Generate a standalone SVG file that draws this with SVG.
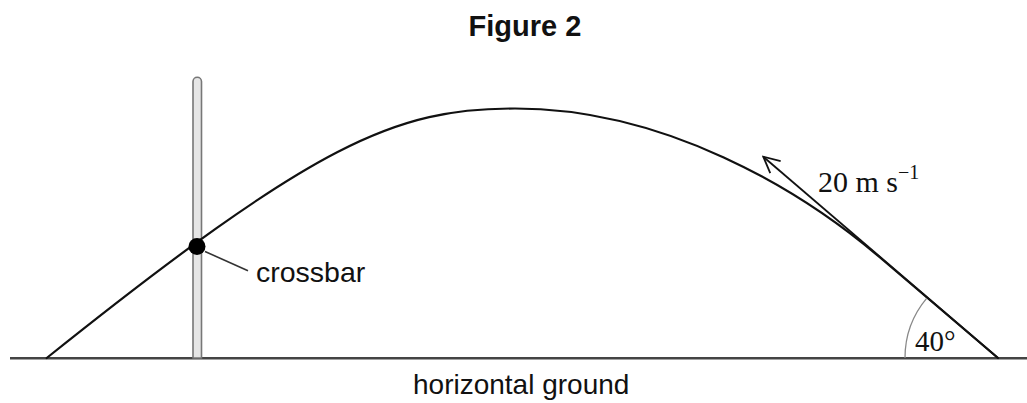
<svg xmlns="http://www.w3.org/2000/svg" width="1027" height="403" viewBox="0 0 1027 403">
<style>
.sans{font-family:"Liberation Sans",Arial,sans-serif;fill:#111}
.serif{font-family:"Liberation Serif","Times New Roman",serif;fill:#111}
.line{fill:none;stroke:#111;stroke-width:2.2;stroke-linecap:round;stroke-linejoin:round}
</style>
<defs>
<marker id="openhead" viewBox="0 0 20 20" refX="18" refY="10" markerWidth="20" markerHeight="20" markerUnits="userSpaceOnUse" orient="auto">
<path d="M2,2 L18,10 L2,18" fill="none" stroke="#111" stroke-width="1.8"/>
</marker>
</defs>
<rect width="1027" height="403" fill="#fff"/>
<text class="sans" x="525" y="36" font-size="29" font-weight="bold" text-anchor="middle">Figure 2</text>

<g id="ground">
<line x1="10" y1="358.3" x2="1027" y2="358.3" stroke="#444" stroke-width="2.5"/>
<text class="sans" x="413" y="394" font-size="28">horizontal ground</text>
</g>

<g id="post">
<path d="M193,358 L193,81.5 A4.25,4.25 0 0 1 201.5,81.5 L201.5,358 Z" fill="#e6e6e6" stroke="#777" stroke-width="1.6"/>
</g>

<g id="trajectory">
<path class="line" d="M46.7,358 C316.7,142 395,108.5 515,108.5 C665,108.5 800,189.3 880,257.5 L998,358"/>
</g>

<g id="crossbar">
<circle cx="197" cy="246.5" r="8.5" fill="#000"/>
<text class="sans" x="256" y="281.7" font-size="28.5">crossbar</text>
</g>

<g id="angle">
<path d="M905,358 A93,93 0 0 1 926.8,298.2" fill="none" stroke="#888" stroke-width="1.3"/>
<text class="serif" x="915" y="350.7" font-size="29">40°</text>
</g>

<g id="velocity">
<text class="serif" x="818" y="191.7" font-size="30">20 m s<tspan font-size="20" dx="0" dy="-13">−1</tspan></text>
</g>

<g id="connectors">
<line x1="205" y1="251.5" x2="248" y2="270.7" stroke="#333" stroke-width="1.6"/>
<line x1="998" y1="358" x2="763.3" y2="156.7" stroke="#111" stroke-width="1.8" marker-end="url(#openhead)"/>
</g>
</svg>
